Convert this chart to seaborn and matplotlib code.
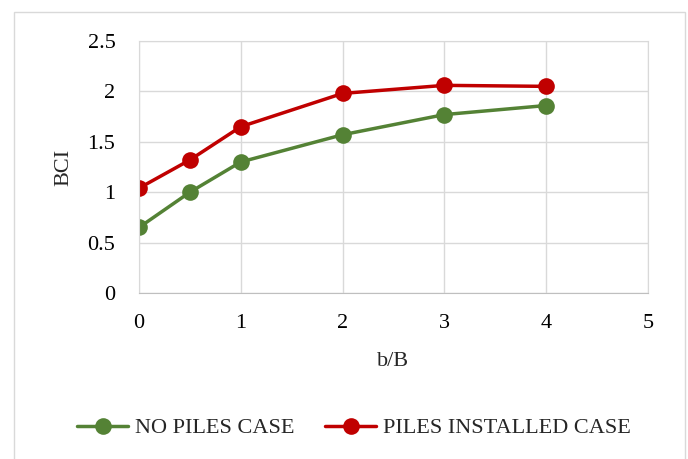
import pandas as pd
import matplotlib
matplotlib.use('Agg')
import matplotlib.pyplot as plt
import seaborn as sns
from matplotlib.patches import Rectangle

# values
b_over_B = [0, 0.5, 1, 2, 3, 4]
no_piles = [0.65, 1.0, 1.3, 1.57, 1.77, 1.86]
piles_installed = [1.04, 1.32, 1.65, 1.98, 2.06, 2.05]
series_names = ['NO PILES CASE', 'PILES INSTALLED CASE']
x_ticks = [0, 1, 2, 3, 4, 5]
y_ticks = [0, 0.5, 1, 1.5, 2, 2.5]

df = pd.DataFrame({
    'b/B': b_over_B * 2,
    'BCI': no_piles + piles_installed,
    'case': [series_names[0]] * len(b_over_B) + [series_names[1]] * len(b_over_B),
})

sns.set_style('white')
plt.rcParams['font.family'] = ['Liberation Serif', 'DejaVu Serif']

fig = plt.figure(figsize=(6.88, 4.59), dpi=100)
ax = fig.add_axes([139 / 688, 1 - 293 / 459, (648 - 139) / 688, (293 - 41) / 459])

sns.lineplot(data=df, x='b/B', y='BCI', hue='case',
             palette={series_names[0]: '#548235', series_names[1]: '#C00000'},
             marker='o', markersize=12, markeredgewidth=0, linewidth=2.5, ax=ax)

ax.set_xlim(0, 5)
ax.set_ylim(0, 2.5)
ax.set_xticks(x_ticks)
ax.set_yticks(y_ticks)
ax.set_xticklabels([str(t) for t in x_ticks])
ax.set_yticklabels([f'{t:g}' for t in y_ticks])
ax.grid(True, color='#D9D9D9', linewidth=1)
ax.set_axisbelow(True)
for side in ['top', 'right', 'left']:
    ax.spines[side].set_color('#D9D9D9')
ax.spines['bottom'].set_color('#BFBFBF')
ax.tick_params(axis='both', labelsize=16, length=0, colors='black')
ax.tick_params(axis='x', pad=15)
ax.tick_params(axis='y', pad=17)
ax.set_xlabel('b/B', fontsize=16, labelpad=14)
ax.set_ylabel('BCI', fontsize=16, labelpad=10)

handles, labels = ax.get_legend_handles_labels()
ax.get_legend().remove()
fig.legend(handles, labels, loc='center', bbox_to_anchor=(354 / 688, 1 - 428 / 459),
           ncol=2, frameon=False, fontsize=16, handlelength=2.3,
           columnspacing=1.4, handletextpad=0.3)

# light outer frame of the chart area
fig.patches.append(Rectangle((14 / 688, -0.1), (685 - 14) / 688, 1 - 12 / 459 + 0.1,
                             transform=fig.transFigure, fill=False,
                             edgecolor='#D9D9D9', linewidth=1))

fig.savefig('out.png', dpi=100)
